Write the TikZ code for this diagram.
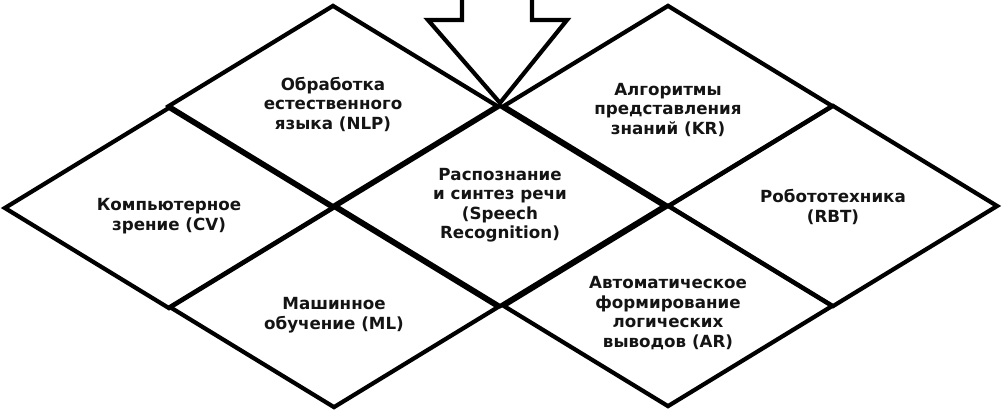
\documentclass[tikz,border=0pt]{standalone}
\usepackage{fontspec}
\setmainfont{DejaVu Sans}
\usetikzlibrary{shapes.geometric}
\tikzset{
  tile/.style={shape=diamond, draw=black, line width=4.2pt, minimum width=330pt, minimum height=202pt, inner sep=0pt},
  txt/.style={align=center, inner sep=0pt, font=\bfseries\fontsize{16.7}{19.5}\selectfont, text=black!92},
  arrowshape/.style={draw=black, line width=4.2pt, line join=miter, fill=white}
}
\begin{document}
\begin{tikzpicture}[x=1pt,y=-1pt]
\clip (0,0) rectangle (1005,413);
\fill[white] (0,0) rectangle (1005,413);
\node[tile] (nlp) at (333,106) {};
\node[tile] (kr) at (668,106) {};
\node[tile] (cv) at (169,208) {};
\node[tile] (sr) at (500,206) {};
\node[tile] (rbt) at (833,206) {};
\node[tile] (ml) at (334,307) {};
\node[tile] (ar) at (668,306) {};
\node[txt] (nlpt) at ([yshift=2pt]nlp.center) {Обработка\\естественного\\языка (NLP)};
\node[txt] (krt) at ([yshift=-4pt]kr.center) {Алгоритмы\\представления\\знаний (KR)};
\node[txt] (cvt) at ([yshift=-8pt]cv.center) {Компьютерное\\зрение (CV)};
\node[txt] (srt) at ([yshift=1pt]sr.center) {Распознание\\и синтез речи\\(Speech\\Recognition)};
\node[txt] (rbtt) at ([yshift=-1pt]rbt.center) {Робототехника\\(RBT)};
\node[txt] (mlt) at ([yshift=-8pt]ml.center) {Машинное\\обучение (ML)};
\node[txt] (art) at ([yshift=-7pt]ar.center) {Автоматическое\\формирование\\логических\\выводов (AR)};
\coordinate (tip) at (sr.north);
\draw[arrowshape] (462,-10) -- (462,20) -- (428,20) -- (tip) -- (567,20) -- (532,20) -- (532,-10);
\end{tikzpicture}
\end{document}
